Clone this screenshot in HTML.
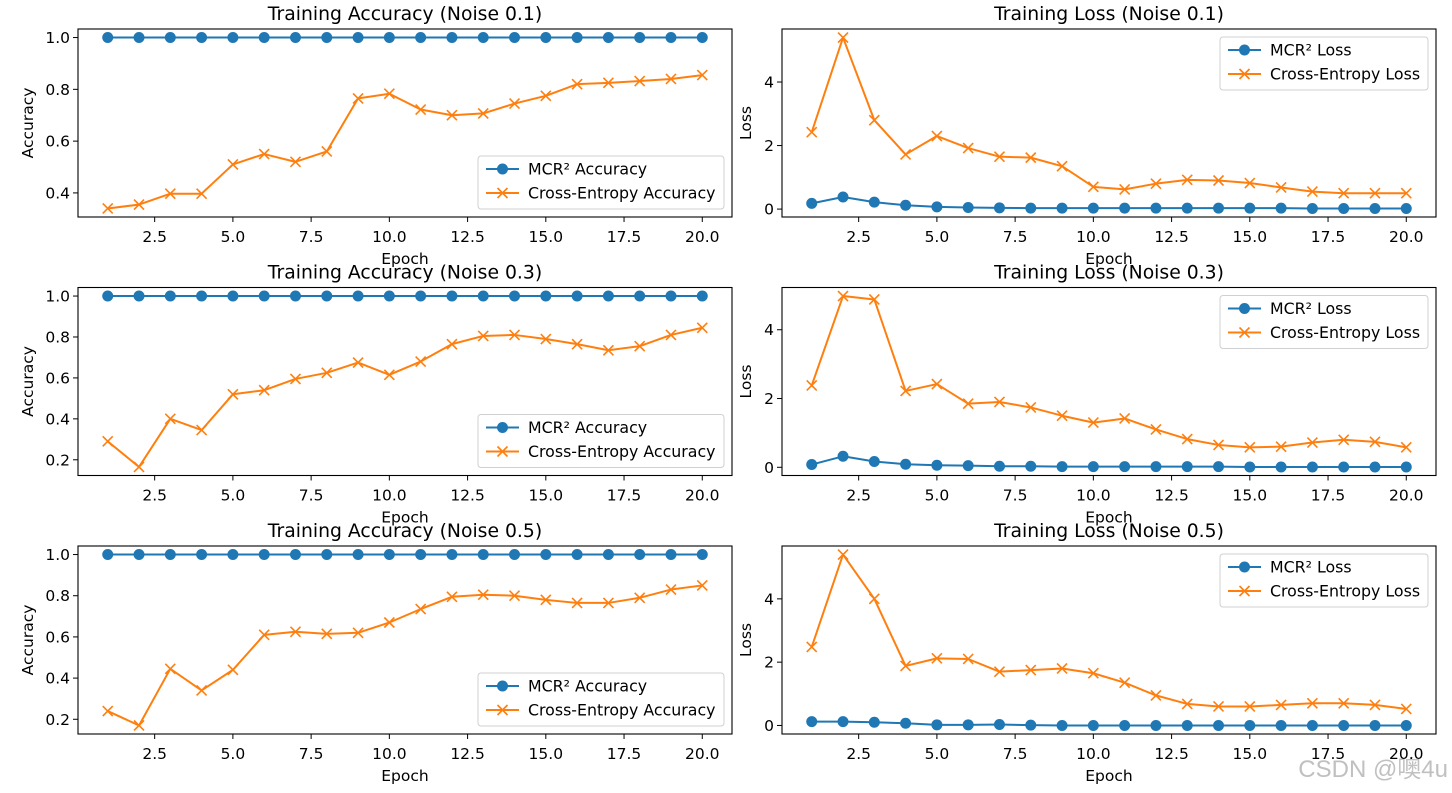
<!DOCTYPE html>
<html><head><meta charset="utf-8"><style>
html,body{margin:0;padding:0;background:#fff;}
svg{display:block;font-family:"DejaVu Sans","Liberation Sans","Noto Sans CJK SC",sans-serif;}
</style></head><body>
<svg id="fig" width="1452" height="793" viewBox="0 0 1452 793" xmlns="http://www.w3.org/2000/svg">
<rect x="0" y="0" width="1452" height="793" fill="#fff"/>
<text x="1448" y="777" text-anchor="end" font-size="24" fill="#c0c0c0" font-family="'Liberation Sans','Noto Sans CJK SC',sans-serif">CSDN @噢4u</text>
</svg>
<script>
const epochs = [1,2,3,4,5,6,7,8,9,10,11,12,13,14,15,16,17,18,19,20];
const noiseLevels = ["0.1","0.3","0.5"];
const mcrAcc1 = [1,1,1,1,1,1,1,1,1,1,1,1,1,1,1,1,1,1,1,1];
const ceAcc1 = [0.34,0.355,0.397,0.397,0.51,0.55,0.52,0.56,0.765,0.783,0.722,0.70,0.707,0.745,0.775,0.82,0.825,0.832,0.84,0.855];
const mcrAcc2 = [1,1,1,1,1,1,1,1,1,1,1,1,1,1,1,1,1,1,1,1];
const ceAcc2 = [0.29,0.165,0.40,0.345,0.52,0.54,0.595,0.625,0.675,0.615,0.68,0.765,0.805,0.81,0.79,0.765,0.735,0.755,0.81,0.845];
const mcrAcc3 = [1,1,1,1,1,1,1,1,1,1,1,1,1,1,1,1,1,1,1,1];
const ceAcc3 = [0.24,0.17,0.445,0.34,0.44,0.61,0.625,0.615,0.62,0.67,0.735,0.795,0.805,0.8,0.78,0.765,0.765,0.79,0.83,0.85];
const mcrLoss1 = [0.18,0.38,0.22,0.12,0.07,0.05,0.04,0.03,0.03,0.03,0.03,0.03,0.03,0.03,0.03,0.03,0.02,0.02,0.02,0.02];
const ceLoss1 = [2.42,5.4,2.8,1.72,2.3,1.92,1.65,1.62,1.35,0.7,0.62,0.8,0.92,0.9,0.82,0.68,0.55,0.5,0.5,0.5];
const mcrLoss2 = [0.08,0.32,0.17,0.09,0.06,0.05,0.03,0.03,0.02,0.02,0.02,0.02,0.02,0.02,0.01,0.01,0.01,0.01,0.01,0.01];
const ceLoss2 = [2.38,4.98,4.88,2.22,2.42,1.85,1.9,1.74,1.5,1.3,1.42,1.1,0.82,0.65,0.58,0.6,0.72,0.8,0.74,0.58];
const mcrLoss3 = [0.12,0.12,0.1,0.07,0.02,0.02,0.03,0.01,0,0,0,0,0,0,0,0,0,0,0,0];
const ceLoss3 = [2.48,5.4,4.0,1.88,2.12,2.1,1.7,1.75,1.8,1.65,1.35,0.95,0.68,0.6,0.6,0.65,0.7,0.7,0.65,0.52];
const xTicks = [2.5,5.0,7.5,10.0,12.5,15.0,17.5,20.0];
const accTicks1 = [0.4,0.6,0.8,1.0];
const accTicks23 = [0.2,0.4,0.6,0.8,1.0];
const lossTicks = [0,2,4];

const NS = "http://www.w3.org/2000/svg";
const fig = document.getElementById('fig');
function mk(tag, attrs, parent){const e=document.createElementNS(NS,tag);for(const k in attrs)e.setAttribute(k,attrs[k]);(parent||fig).appendChild(e);return e;}
const BLUE="#1f77b4", ORANGE="#ff7f0e";

function panel(opts){
  const {left,top,w,h,title,ylabel,ylOff,s1,s2,yt,names,legendPos,key,fmt}=opts;
  const g=mk('g',{});
  
  
  const all=s1.concat(s2);
  let mn=Math.min(...all), mx=Math.max(...all); const r=mx-mn;
  const y0=mn-0.05*r, y1=mx+0.05*r;
  const x0=epochs[0]-0.05*(epochs[epochs.length-1]-epochs[0]), x1=epochs[epochs.length-1]+0.05*(epochs[epochs.length-1]-epochs[0]);
  const X=v=>left+(v-x0)/(x1-x0)*w;
  const Y=v=>top+h-(v-y0)/(y1-y0)*h;
  const t=mk('text',{x:left+w/2,y:top-9,'text-anchor':'middle','font-size':18.8,fill:'#000'},g);t.textContent=title;
  
  
  xTicks.forEach(v=>{
    mk('line',{x1:X(v),x2:X(v),y1:top+h,y2:top+h+5,stroke:'#000','stroke-width':1},g);
    const l=mk('text',{x:X(v),y:top+h+25,'text-anchor':'middle','font-size':15.5},g);l.textContent=v.toFixed(1);
    
    
  });
  yt.forEach(v=>{
    mk('line',{x1:left-5,x2:left,y1:Y(v),y2:Y(v),stroke:'#000','stroke-width':1},g);
    const l=mk('text',{x:left-8,y:Y(v)+5.5,'text-anchor':'end','font-size':15.5},g);l.textContent=fmt(v);
    
    
  });
  const xl=mk('text',{x:left+w/2,y:top+h+47,'text-anchor':'middle','font-size':15.5},g);xl.textContent='Epoch';
  
  
  const yx=left-ylOff, yy=top+h/2;
  const yl=mk('text',{x:yx,y:yy,'text-anchor':'middle','font-size':15.5,transform:`rotate(-90 ${yx} ${yy})`},g);yl.textContent=ylabel;
  
  
  function series(vals,color,marker,nm){
    const sg=mk('g',{},g);
    
    
    mk('polyline',{points:vals.map((v,i)=>X(epochs[i])+','+Y(v)).join(' '),fill:'none',stroke:color,'stroke-width':2,'stroke-linejoin':'round'},sg);
    vals.forEach((v,i)=>{
      const cx=X(epochs[i]),cy=Y(v);
      if(marker==='o') mk('circle',{cx,cy,r:5.5,fill:color},sg);
      else mk('path',{d:`M${cx-5},${cy-5}L${cx+5},${cy+5}M${cx-5},${cy+5}L${cx+5},${cy-5}`,stroke:color,'stroke-width':1.6,fill:'none'},sg);
    });
  }
  series(s1,BLUE,'o',key+'-mcr-series');
  series(s2,ORANGE,'x',key+'-ce-series');
  mk('rect',{x:left,y:top,width:w,height:h,fill:'none',stroke:'#000','stroke-width':1.1},g);
  const lw=legendPos.w, lh=53;
  const lx=left+w-8-lw;
  const ly=legendPos.top?top+8:top+h-8-lh;
  const lg=mk('g',{},g);
  
  
  mk('rect',{x:lx,y:ly,width:lw,height:lh,rx:3,fill:'#fff','fill-opacity':0.8,stroke:'#d0d0d0'},lg);
  [[BLUE,'o',names[0]],[ORANGE,'x',names[1]]].forEach((it,i)=>{
    const cy=ly+13+i*24, sx=lx+8;
    const e=mk('g',{},lg);
    
    
    mk('line',{x1:sx,x2:sx+33,y1:cy,y2:cy,stroke:it[0],'stroke-width':2},e);
    if(it[1]==='o') mk('circle',{cx:sx+16.5,cy,r:5.5,fill:it[0]},e);
    else mk('path',{d:`M${sx+11.5},${cy-5}L${sx+21.5},${cy+5}M${sx+11.5},${cy+5}L${sx+21.5},${cy-5}`,stroke:it[0],'stroke-width':1.6},e);
    const tx=mk('text',{x:sx+42,y:cy+5.5,'font-size':15.8},e);tx.textContent=it[2];
  });
}
const accData=[[mcrAcc1,ceAcc1,accTicks1],[mcrAcc2,ceAcc2,accTicks23],[mcrAcc3,ceAcc3,accTicks23]];
const lossData=[[mcrLoss1,ceLoss1],[mcrLoss2,ceLoss2],[mcrLoss3,ceLoss3]];
for(let r=0;r<3;r++){
  const top=29+r*258.5;
  panel({left:78,top,w:654,h:188,title:`Training Accuracy (Noise ${noiseLevels[r]})`,ylabel:'Accuracy',ylOff:45,
    s1:accData[r][0],s2:accData[r][1],yt:accData[r][2],names:['MCR² Accuracy','Cross-Entropy Accuracy'],
    legendPos:{top:false,w:246},key:'accuracy-'+(r+1),fmt:v=>v.toFixed(1)});
  panel({left:782,top,w:654,h:188,title:`Training Loss (Noise ${noiseLevels[r]})`,ylabel:'Loss',ylOff:31,
    s1:lossData[r][0],s2:lossData[r][1],yt:lossTicks,names:['MCR² Loss','Cross-Entropy Loss'],
    legendPos:{top:true,w:208},key:'loss-'+(r+1),fmt:v=>String(v)});
}
</script>
</body></html>
